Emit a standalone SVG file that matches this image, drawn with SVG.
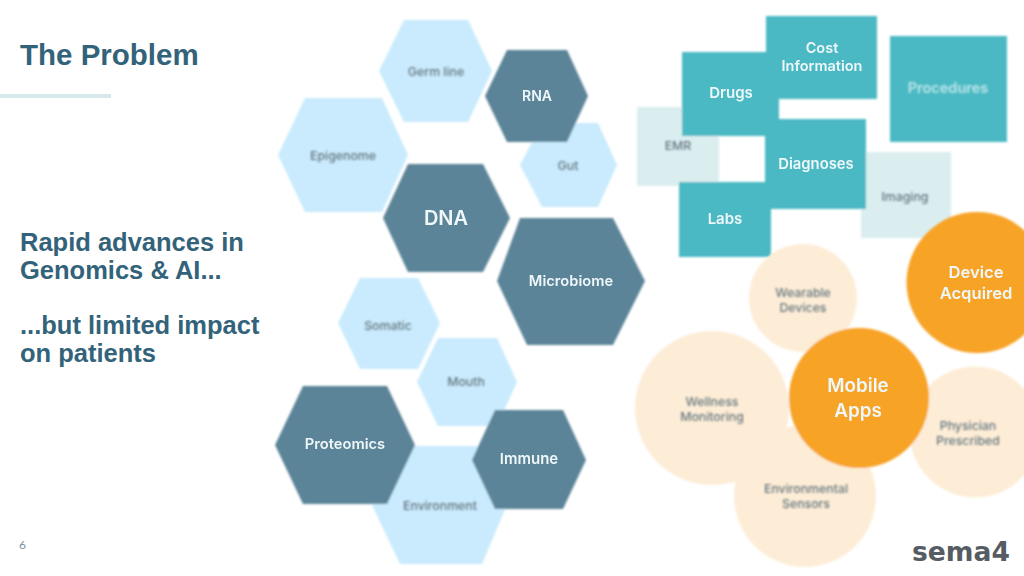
<svg xmlns="http://www.w3.org/2000/svg" width="1024" height="576" viewBox="0 0 1024 576">
<style>
.lt{font-family:"Liberation Sans",Arial,sans-serif;font-weight:700;fill:#33637a}
.n{font-family:Inter,"Open Sans",sans-serif;text-anchor:middle;font-weight:600;fill:#eef7f9}
.f{font-family:Inter,"Open Sans",sans-serif;text-anchor:middle;font-weight:500;fill:#65767f;font-size:12.3px}
.hl{fill:#c9ebfd}.hd{fill:#5b8498}.rt{fill:#4cb9c3}.rf{fill:#daeef0}.co{fill:#f7a325}.cc{fill:#fdedd7}
</style>
<defs>
<filter id="soft" x="-5%" y="-5%" width="110%" height="110%"><feGaussianBlur stdDeviation="0.8"/></filter>
<filter id="blurtext" x="-5%" y="-5%" width="110%" height="110%"><feGaussianBlur stdDeviation="0.85"/></filter>
<filter id="crisp" x="-5%" y="-5%" width="110%" height="110%"><feGaussianBlur stdDeviation="0.4"/></filter>
</defs>
<rect width="1024" height="576" fill="#fff"/>
<g id="slide-text">
<text class="lt" x="20" y="65" font-size="29.5">The Problem</text>
<rect x="0" y="94" width="111" height="4" fill="#d6e9ea"/>
<text class="lt" x="20" y="251" font-size="25.5">Rapid advances in</text>
<text class="lt" x="20" y="279" font-size="25.5">Genomics &amp; AI...</text>
<text class="lt" x="20" y="334" font-size="25.5">...but limited impact</text>
<text class="lt" x="20" y="362" font-size="25.5">on patients</text>
<text x="19" y="549" font-size="12" font-family="Lato,sans-serif" fill="#7a909c">6</text>
</g>
<g id="hexagons" filter="url(#soft)">
<g id="germ-line"><polygon class="hl" points="379,71 404,20 468,20 492,71 468,122 404,122"/></g>
<g id="gut"><polygon class="hl" points="520,165 542,123 598,123 617,165 598,207 542,207"/></g>
<g id="rna"><polygon class="hd" points="485,96 507,50 567,50 588,96 567,142 507,142"/></g>
<g id="epigenome"><polygon class="hl" points="278,155 305,98 382,98 408,155 382,212 305,212"/></g>
<g id="dna"><polygon class="hd" points="383,218 408,164 483,164 510,218 483,272 408,272"/></g>
<g id="microbiome"><polygon class="hd" points="497,281 520,218 613,218 645,281 613,345 527,345"/></g>
<g id="somatic"><polygon class="hl" points="338,323 360,278 418,278 440,323 418,369 360,369"/></g>
<g id="mouth"><polygon class="hl" points="417,382 438,338 497,338 517,382 497,426 438,426"/></g>
<g id="environment"><polygon class="hl" points="372,505 400,446 482,446 507,505 482,564 400,564"/></g>
<g id="proteomics"><polygon class="hd" points="275,445 303,386 387,386 415,445 387,504 303,504"/></g>
<g id="immune"><polygon class="hd" points="472,460 495,410 563,410 586,460 563,509 495,509"/></g>
</g>
<g id="rectangles" filter="url(#soft)">
<g id="emr"><rect class="rf" x="637" y="107" width="82" height="79"/></g>
<g id="imaging"><rect class="rf" x="861" y="152" width="90" height="86"/></g>
<g id="drugs"><rect class="rt" x="682" y="52" width="97" height="84"/></g>
<g id="cost"><rect class="rt" x="766" y="16" width="111" height="83"/></g>
<g id="procedures"><rect class="rt" x="890" y="36" width="117" height="106"/></g>
<g id="labs"><rect class="rt" x="679" y="182" width="92" height="75"/></g>
<g id="diagnoses"><rect class="rt" x="765" y="119" width="101" height="90"/></g>
</g>
<g id="circles" filter="url(#soft)">
<g id="wearable"><circle class="cc" cx="803" cy="298" r="54"/></g>
<g id="wellness"><circle class="cc" cx="712" cy="408" r="77"/></g>
<g id="sensors"><circle class="cc" cx="805" cy="496" r="71"/></g>
<g id="physician"><circle class="cc" cx="975" cy="432" r="65.5"/></g>
<g id="device"><circle class="co" cx="977" cy="282.5" r="70.5"/></g>
<g id="mobile"><circle class="co" cx="859" cy="398" r="70"/></g>
</g>
<g id="connectors"/>
<g id="faded-labels" filter="url(#blurtext)">
<text class="f" x="436" y="76">Germ line</text>
<text class="f" x="343" y="160">Epigenome</text>
<text class="f" x="568" y="170">Gut</text>
<text class="f" x="388" y="330">Somatic</text>
<text class="f" x="466" y="386">Mouth</text>
<text class="f" x="440" y="510">Environment</text>
<text class="f" x="678" y="150">EMR</text>
<text class="f" x="905" y="201">Imaging</text>
<text class="f" x="803" y="297">Wearable</text>
<text class="f" x="803" y="312">Devices</text>
<text class="f" x="712" y="406">Wellness</text>
<text class="f" x="712" y="421">Monitoring</text>
<text class="f" x="806" y="493">Environmental</text>
<text class="f" x="806" y="508">Sensors</text>
<text class="f" x="968" y="430">Physician</text>
<text class="f" x="968" y="445">Prescribed</text>
<text class="n" x="948" y="93" font-size="14.5" style="fill:#bfe6ea">Procedures</text>
</g>
<g id="labels" filter="url(#crisp)">
<text class="n" x="537" y="101" font-size="14">RNA</text>
<text class="n" x="446" y="225" font-size="20">DNA</text>
<text class="n" x="571" y="286" font-size="14.7">Microbiome</text>
<text class="n" x="345" y="449" font-size="14.7">Proteomics</text>
<text class="n" x="529" y="464" font-size="15">Immune</text>
<text class="n" x="822" y="53" font-size="14.5">Cost</text>
<text class="n" x="822" y="71" font-size="14.5">Information</text>
<text class="n" x="731" y="98" font-size="15">Drugs</text>
<text class="n" x="816" y="169" font-size="14.8">Diagnoses</text>
<text class="n" x="725" y="224" font-size="15">Labs</text>
<text class="n" x="976" y="278" font-size="16.6">Device</text>
<text class="n" x="976" y="299" font-size="16.6">Acquired</text>
<text class="n" x="858" y="392" font-size="18.8">Mobile</text>
<text class="n" x="858" y="417" font-size="18.8">Apps</text>
</g>
<g id="logo">
<text x="912" y="561" font-family="'DejaVu Sans',sans-serif" font-weight="700" font-size="27" fill="#555c64" textLength="98" lengthAdjust="spacingAndGlyphs">sema4</text>
</g>
</svg>
